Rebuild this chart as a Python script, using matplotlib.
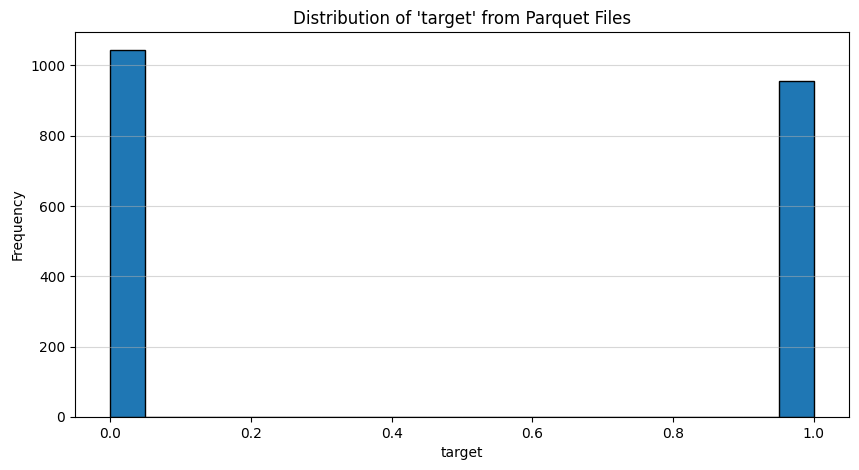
import matplotlib
matplotlib.use('Agg')
import matplotlib.pyplot as plt

# Values of 'target' and how often each occurs
target_values = [0, 1]
target_counts = [1043, 957]
n_bins = 20

fig = plt.figure(figsize=(8.59, 4.70), dpi=100)
ax = fig.add_axes([75 / 859, 53 / 470, 774 / 859, 385 / 470])

ax.hist(target_values, bins=n_bins, weights=target_counts, edgecolor='black')

ax.set_title("Distribution of 'target' from Parquet Files")
ax.set_xlabel('target')
ax.set_ylabel('Frequency')
ax.grid(axis='y', alpha=0.5)

fig.savefig('out.png', dpi=100)
